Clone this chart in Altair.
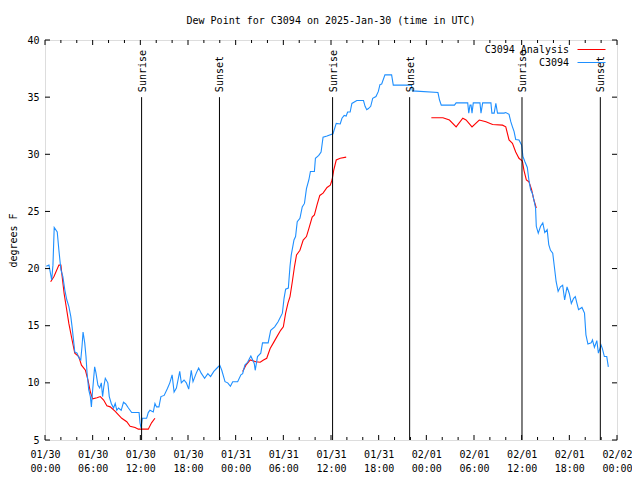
import altair as alt
import pandas as pd

# Hours since 2025-01-30 00:00 UTC
obs_hours = [0.16, 0.5, 0.84, 1.0, 1.16, 1.54, 1.75, 2.0, 2.25, 2.5, 2.75, 3.0, 3.25, 3.41, 3.75, 4.04, 4.25, 4.5,
             4.66, 4.79, 5.0, 5.16, 5.29, 5.5, 5.71, 5.84, 6.0, 6.25, 6.41, 6.66, 6.88, 7.09, 7.25, 7.41, 7.59, 7.91,
             8.09, 8.34, 8.63, 8.84, 9.04, 9.25, 9.59, 9.88, 10.16, 10.5, 10.91, 11.34, 11.84, 11.96, 12.09, 12.25,
             12.79, 13.0, 13.21, 13.63, 13.84, 14.04, 14.34, 14.59, 15.0, 15.41, 15.71, 16.0, 16.25, 16.54, 16.96,
             17.16, 17.5, 17.79, 18.09, 18.41, 18.63, 19.04, 19.34, 19.66, 20.09, 20.5, 20.84, 21.25, 21.66, 22.0,
             22.25, 22.66, 23.0, 23.34, 23.63, 24.25, 24.66, 24.88, 25.16, 25.5, 25.91, 26.34, 26.46, 26.75, 27.16,
             27.38, 28.09, 28.41, 28.91, 29.34, 29.88, 30.09, 30.29, 30.63, 30.84, 31.0, 31.34, 31.54, 31.75, 32.09,
             32.38, 32.66, 32.91, 33.21, 33.41, 33.91, 34.04, 34.46, 34.75, 35.0, 35.5, 36.25, 36.66, 37.16, 37.38,
             37.66, 37.91, 38.09, 38.41, 38.63, 39.25, 40.09, 40.29, 40.5, 40.71, 41.0, 41.25, 41.66, 41.96, 42.16,
             42.38, 42.79, 43.63, 43.84, 45.09, 46.13, 46.25, 49.46, 49.66, 49.88, 51.54, 51.75, 53.21, 53.34, 53.5,
             53.63, 53.75, 53.91, 54.75, 54.88, 55.09, 56.13, 56.25, 56.54, 56.75, 56.96, 57.79, 58.0, 58.41, 58.63,
             58.84, 59.04, 59.25, 59.66, 60.0, 60.16, 60.41, 60.71, 60.91, 61.13, 61.34, 61.54, 61.75, 61.84, 62.09,
             62.38, 62.66, 62.91, 63.21, 63.41, 63.63, 63.91, 64.16, 64.34, 64.59, 64.88, 65.16, 65.41, 65.71, 66.0,
             66.25, 66.54, 66.75, 66.96, 67.16, 67.59, 67.91, 68.09, 68.34, 68.75, 68.91, 69.16, 69.46, 69.66, 70.0,
             70.16, 70.41, 70.71, 70.91]
obs_values = [20.2, 20.3, 19.0, 20.3, 23.6, 23.2, 21.6, 19.9, 19.3, 18.1, 17.25, 16.7, 15.8, 14.9, 12.7, 12.6, 12.2,
              12.0, 13.2, 14.45, 13.5, 12.3, 10.9, 9.4, 8.8, 7.9, 9.4, 11.4, 10.9, 9.8, 9.55, 10.0, 8.8, 9.7, 10.4,
              10.0, 8.8, 8.2, 7.8, 8.2, 7.6, 7.8, 7.6, 8.3, 8.15, 7.8, 7.4, 7.4, 7.4, 6.5, 6.05, 6.9, 6.9, 7.4, 7.6,
              7.45, 8.2, 7.9, 7.9, 8.8, 8.9, 9.5, 10.0, 10.7, 9.2, 9.55, 11.0, 10.0, 10.25, 10.0, 9.45, 11.1, 10.1,
              10.85, 11.3, 10.85, 10.4, 10.8, 10.55, 11.0, 11.3, 11.55, 11.1, 10.1, 10.0, 9.7, 10.1, 10.1, 10.7, 10.8,
              11.55, 11.8, 12.35, 11.7, 11.1, 12.3, 12.6, 13.5, 13.5, 14.6, 14.9, 15.35, 16.1, 17.4, 18.2, 18.3, 20.2,
              21.2, 22.5, 22.8, 24.1, 24.4, 25.4, 25.7, 27.0, 27.75, 28.5, 28.5, 29.65, 29.9, 30.2, 31.5, 31.6, 31.8,
              32.7, 32.65, 33.15, 33.4, 33.35, 33.7, 33.7, 34.45, 34.7, 34.7, 34.2, 33.9, 34.0, 34.2, 34.9, 35.05,
              35.5, 36.1, 36.15, 36.95, 36.95, 36.05, 36.05, 36.05, 35.55, 35.4, 34.75, 34.3, 34.3, 34.5, 34.5, 33.6,
              34.3, 34.3, 33.6, 34.5, 34.5, 33.6, 34.5, 34.5, 33.6, 33.6, 34.45, 33.6, 33.6, 33.65, 33.5, 32.85,
              32.4, 32.0, 31.3, 31.25, 30.8, 29.8, 29.35, 28.85, 27.75, 26.9, 26.6, 26.0, 25.3, 23.7, 23.1, 23.7,
              24.0, 23.15, 23.4, 22.1, 21.6, 21.35, 19.9, 18.85, 18.0, 18.4, 18.55, 17.25, 18.4, 17.8, 16.95, 17.4,
              17.55, 16.95, 16.4, 16.6, 16.1, 14.2, 13.4, 13.5, 13.75, 13.1, 13.7, 12.6, 13.3, 13.0, 12.3, 12.3, 11.4]

ana_hours = [0.71, 1.13, 1.75, 2.0, 2.16, 2.41, 2.66, 3.0, 3.41, 3.75, 4.25, 4.59, 5.09, 5.41, 5.71, 6.0, 6.54, 6.96,
             7.38, 7.79, 8.21, 8.84, 9.66, 10.29, 10.71, 11.34, 11.75, 13.0, 13.41, 13.84,
             24.88, 25.29, 25.84, 26.54, 27.09, 27.5, 27.91, 28.34, 28.75, 29.16, 29.66, 30.0, 30.29, 30.59, 30.84,
             31.13, 31.41, 31.66, 32.09, 32.5, 32.91, 33.21, 33.63, 33.91, 34.25, 34.59, 35.0, 35.5, 35.91, 36.13,
             36.34, 36.66, 37.16, 37.91,
             48.63, 50.09, 50.91, 51.75, 52.59, 53.0, 53.75, 54.66, 55.5, 56.34, 57.59, 58.0, 58.41, 58.84, 59.25,
             59.66, 60.09, 60.29, 60.59, 60.91, 61.25, 61.54, 61.84]
ana_values = [18.85, 19.3, 20.3, 20.3, 19.3, 17.8, 16.7, 15.2, 13.75, 12.6, 12.3, 11.55, 11.1, 10.25, 9.2, 8.6, 8.7,
              8.8, 8.5, 8.0, 7.9, 7.5, 6.9, 6.6, 6.2, 6.1, 5.95, 5.95, 6.5, 6.9,
              11.0, 11.55, 12.0, 11.85, 11.8, 12.0, 12.15, 13.0, 13.5, 14.0, 14.6, 14.9, 16.1, 17.0, 17.55, 18.85,
              20.2, 21.2, 21.6, 22.5, 22.8, 23.5, 24.5, 24.7, 25.6, 26.4, 26.6, 27.1, 27.3, 27.75, 28.6, 29.5, 29.65,
              29.75,
              33.2, 33.2, 33.0, 32.4, 33.15, 33.0, 32.4, 33.0, 32.85, 32.6, 32.55, 32.4, 31.25, 30.95, 30.2, 29.65,
              29.4, 28.6, 27.75, 27.6, 26.9, 26.0, 25.3]
ana_segment = [1] * 30 + [2] * 34 + [3] * 23

event_hours = [12.16, 21.96, 36.2, 45.9, 60.04, 69.9]
event_labels = ["Sunrise", "Sunset", "Sunrise", "Sunset", "Sunrise", "Sunset"]

x_major = [0, 6, 12, 18, 24, 30, 36, 42, 48, 54, 60, 66, 72]
x_minor = [h for h in range(0, 73, 2) if h % 6 != 0]
y_ticks = [5, 10, 15, 20, 25, 30, 35, 40]
day_labels = ["01/30", "01/31", "02/01", "02/02"]

W, H = 572, 400
FONT = "DejaVu Sans Mono"
RED = "#ff0000"
BLUE = "#1e8fff"

obs = pd.DataFrame({"h": obs_hours, "v": obs_values})
ana = pd.DataFrame({"h": ana_hours, "v": ana_values, "seg": ana_segment})
events = pd.DataFrame({"h": event_hours, "label": event_labels, "lo": [5] * 6, "hi": [35] * 6})

xscale = alt.Scale(domain=[0, 72], nice=False, zero=False)
yscale = alt.Scale(domain=[5, 40], nice=False, zero=False)

label_expr = ("[" + str(day_labels) + "[floor(datum.value / 24)], "
              "format(datum.value % 24, '02d') + ':00']")

x_enc = alt.X("h:Q", scale=xscale,
              axis=alt.Axis(values=x_major, tickSize=0, domain=False, grid=False, title=None,
                            labelExpr=label_expr, labelFont=FONT, labelFontSize=10, labelColor="black",
                            labelPadding=9, labelLineHeight=14, labelFlush=False, labelOverlap=False))
y_enc = alt.Y("v:Q", scale=yscale,
              axis=alt.Axis(values=y_ticks, tickSize=0, domain=False, grid=False, title="degrees F",
                            labelFont=FONT, labelFontSize=10, labelColor="black", labelPadding=6,
                            titleFont=FONT, titleFontSize=10, titleFontWeight="normal", titleColor="black",
                            titlePadding=8))

ana_line = alt.Chart(ana).mark_line(color=RED, strokeWidth=1.1, interpolate="linear").encode(
    x=x_enc, y=y_enc, detail="seg:N")
obs_line = alt.Chart(obs).mark_line(color=BLUE, strokeWidth=1.1).encode(x="h:Q", y="v:Q")

ev_rule = alt.Chart(events).mark_rule(color="black", strokeWidth=1).encode(
    x="h:Q", y="lo:Q", y2="hi:Q")
# with angle 270, dx moves the text up and dy moves it right
ev_text = alt.Chart(events).mark_text(angle=270, align="left", baseline="middle", font=FONT, fontSize=10,
                                      color="black", dx=5, dy=1).encode(x="h:Q", y="hi:Q", text="label:N")

maj = pd.DataFrame({"h": x_major})
mnr = pd.DataFrame({"h": x_minor})
yt = pd.DataFrame({"v": y_ticks})
tick_layers = [
    alt.Chart(maj).mark_rule(color="black").encode(x="h:Q", y=alt.value(H), y2=alt.value(H - 5)),
    alt.Chart(maj).mark_rule(color="black").encode(x="h:Q", y=alt.value(0), y2=alt.value(5)),
    alt.Chart(mnr).mark_rule(color="black").encode(x="h:Q", y=alt.value(H), y2=alt.value(H - 3)),
    alt.Chart(mnr).mark_rule(color="black").encode(x="h:Q", y=alt.value(0), y2=alt.value(3)),
    alt.Chart(yt).mark_rule(color="black").encode(y="v:Q", x=alt.value(0), x2=alt.value(5)),
    alt.Chart(yt).mark_rule(color="black").encode(y="v:Q", x=alt.value(W), x2=alt.value(W - 5)),
]

one = pd.DataFrame({"a": [0]})
legend_layers = [
    alt.Chart(one).mark_text(align="right", baseline="middle", font=FONT, fontSize=10, color="black").encode(
        x=alt.value(W - 48), y=alt.value(10), text=alt.value("C3094 Analysis")),
    alt.Chart(one).mark_text(align="right", baseline="middle", font=FONT, fontSize=10, color="black").encode(
        x=alt.value(W - 48), y=alt.value(23), text=alt.value("C3094")),
    alt.Chart(one).mark_rule(color=RED, strokeWidth=1).encode(
        x=alt.value(W - 39.5), x2=alt.value(W - 11.5), y=alt.value(9.5)),
    alt.Chart(one).mark_rule(color=BLUE, strokeWidth=1).encode(
        x=alt.value(W - 39.5), x2=alt.value(W - 11.5), y=alt.value(22.5)),
]

chart = alt.layer(ana_line, obs_line, ev_rule, ev_text, *tick_layers, *legend_layers).properties(
    width=W, height=H,
    title=alt.TitleParams("Dew Point for C3094 on 2025-Jan-30 (time in UTC)", font=FONT, fontSize=10,
                          fontWeight="normal", color="black", anchor="middle", offset=9),
    autosize=alt.AutoSizeParams(type="none"),
    padding={"left": 37, "top": 32, "right": 15, "bottom": 32},
).configure_view(stroke="black", strokeWidth=1).configure(background="white")

chart.save("out.html", embed_options={"renderer": "svg", "actions": False})
